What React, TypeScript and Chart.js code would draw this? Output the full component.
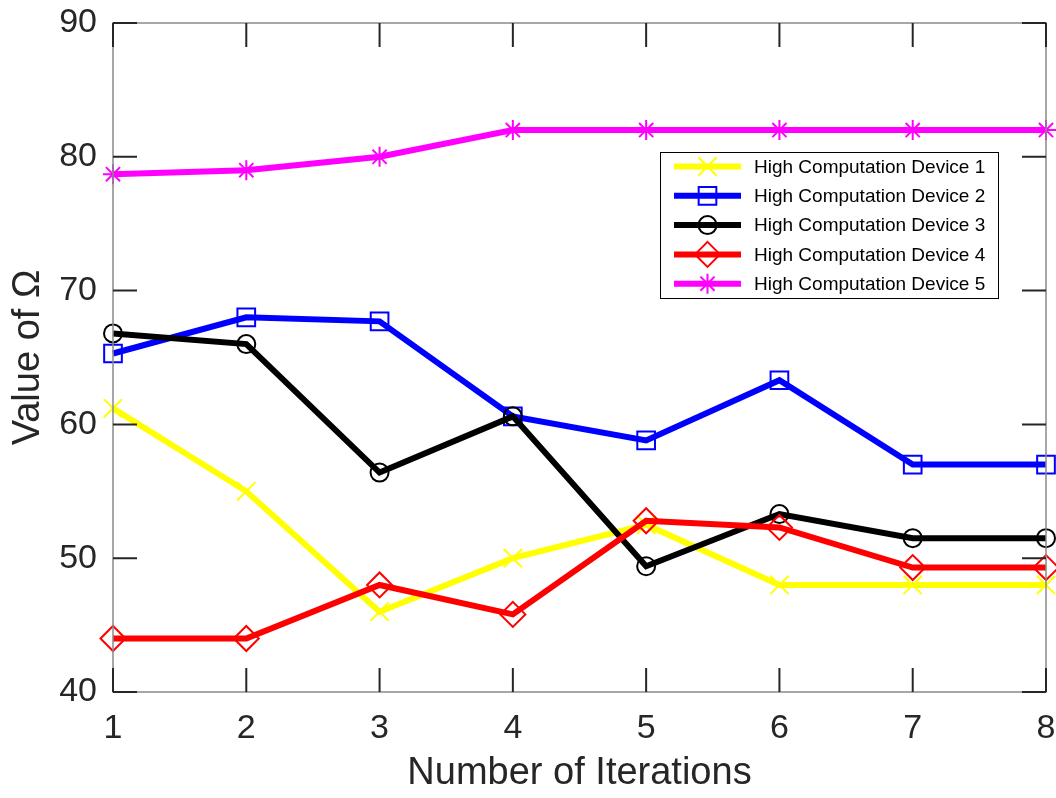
import React, { useEffect, useRef } from 'react';
import { Chart, registerables } from 'chart.js';

Chart.register(...registerables);

const iterations = [1, 2, 3, 4, 5, 6, 7, 8];
const device1 = [61.2, 55.0, 46.0, 50.0, 52.5, 48.0, 48.0, 48.0];
const device2 = [65.3, 68.0, 67.7, 60.6, 58.8, 63.3, 57.0, 57.0];
const device3 = [66.8, 66.0, 56.4, 60.6, 49.4, 53.3, 51.5, 51.5];
const device4 = [44.0, 44.0, 48.0, 45.8, 52.8, 52.3, 49.3, 49.3];
const device5 = [78.7, 79.0, 80.0, 82.0, 82.0, 82.0, 82.0, 82.0];

const seriesNames = [
  'High Computation Device 1',
  'High Computation Device 2',
  'High Computation Device 3',
  'High Computation Device 4',
  'High Computation Device 5',
];
const seriesValues = [device1, device2, device3, device4, device5];
const seriesColors = ['#FFFF00', '#0000FF', '#000000', '#FF0000', '#FF00FF'];
const pointStyles = ['crossRot', 'rect', 'circle', 'rectRot', 'star'];
const pointRadii = [13, 12.5, 9, 12.5, 10];

const xTitle = 'Number of Iterations';
const yTitle = 'Value of Ω';
const yMin = 40;
const yMax = 90;
const yStep = 10;

const FONT = "'Liberation Sans', Arial, Helvetica, sans-serif";
const TEXT_COLOR = '#262626';

function drawMarker(ctx: CanvasRenderingContext2D, style: string, x: number, y: number, r: number, color: string) {
  ctx.save();
  ctx.strokeStyle = color;
  ctx.lineWidth = 2;
  ctx.beginPath();
  const q = Math.SQRT1_2 * r;
  switch (style) {
    case 'circle':
      ctx.arc(x, y, r, 0, Math.PI * 2);
      break;
    case 'rect':
      ctx.rect(x - q, y - q, 2 * q, 2 * q);
      break;
    case 'rectRot':
      ctx.moveTo(x, y - r);
      ctx.lineTo(x + r, y);
      ctx.lineTo(x, y + r);
      ctx.lineTo(x - r, y);
      ctx.closePath();
      break;
    case 'crossRot':
      ctx.moveTo(x - q, y - q);
      ctx.lineTo(x + q, y + q);
      ctx.moveTo(x - q, y + q);
      ctx.lineTo(x + q, y - q);
      break;
    case 'star':
      ctx.moveTo(x - q, y - q);
      ctx.lineTo(x + q, y + q);
      ctx.moveTo(x - q, y + q);
      ctx.lineTo(x + q, y - q);
      ctx.moveTo(x, y - r);
      ctx.lineTo(x, y + r);
      ctx.moveTo(x - r, y);
      ctx.lineTo(x + r, y);
      break;
  }
  ctx.stroke();
  ctx.restore();
}

const framePlugin = {
  id: 'frameTicks',
  afterDatasetsDraw(chart: any) {
    const { ctx, chartArea } = chart;
    const { left, right, top, bottom } = chartArea;
    const xs = chart.scales.x;
    const ys = chart.scales.y;
    ctx.save();
    ctx.strokeStyle = '#8a8a8a';
    ctx.lineWidth = 1.5;
    ctx.strokeRect(left, top, right - left, bottom - top);
    ctx.strokeStyle = TEXT_COLOR;
    ctx.lineWidth = 2;
    const len = 24;
    ctx.beginPath();
    iterations.forEach((v) => {
      const px = xs.getPixelForValue(v);
      ctx.moveTo(px, bottom);
      ctx.lineTo(px, bottom - len);
      ctx.moveTo(px, top);
      ctx.lineTo(px, top + len);
    });
    for (let v = yMin; v <= yMax; v += yStep) {
      const py = ys.getPixelForValue(v);
      ctx.moveTo(left, py);
      ctx.lineTo(left + len, py);
      ctx.moveTo(right, py);
      ctx.lineTo(right - len, py);
    }
    ctx.stroke();
    ctx.restore();
  },
};

const legendPlugin = {
  id: 'insideLegend',
  afterDraw(chart: any) {
    const { ctx } = chart;
    const bx = 660, by = 152, bw = 338, bh = 146;
    ctx.save();
    ctx.fillStyle = '#ffffff';
    ctx.fillRect(bx, by, bw, bh);
    ctx.strokeStyle = '#000000';
    ctx.lineWidth = 1;
    ctx.strokeRect(bx + 0.5, by + 0.5, bw, bh);
    const rowH = 29.3;
    seriesNames.forEach((name, i) => {
      const y = by + 14.5 + i * rowH;
      ctx.strokeStyle = seriesColors[i];
      ctx.lineWidth = 6;
      ctx.beginPath();
      ctx.moveTo(674, y);
      ctx.lineTo(741, y);
      ctx.stroke();
      drawMarker(ctx, pointStyles[i], 707.5, y, pointRadii[i], seriesColors[i]);
      ctx.fillStyle = '#000000';
      ctx.font = `19px ${FONT}`;
      ctx.textBaseline = 'middle';
      ctx.textAlign = 'left';
      ctx.fillText(name, 754, y + 1);
    });
    ctx.restore();
  },
};

export default function App() {
  const canvasRef = useRef<HTMLCanvasElement | null>(null);

  useEffect(() => {
    document.body.style.margin = '0';
    const canvas = canvasRef.current;
    if (!canvas) return;
    const datasets = seriesNames.map((name, i) => ({
      label: name,
      data: iterations.map((x, j) => ({ x, y: seriesValues[i][j] })),
      borderColor: seriesColors[i],
      backgroundColor: 'rgba(0,0,0,0)',
      borderWidth: 6,
      pointStyle: pointStyles[i],
      pointRadius: pointRadii[i],
      pointBorderWidth: 2,
      pointBorderColor: seriesColors[i],
      pointBackgroundColor: 'rgba(0,0,0,0)',
      tension: 0,
      clip: false,
      order: seriesNames.length - i,
    }));
    const chart = new Chart(canvas, {
      type: 'line',
      data: { datasets },
      plugins: [framePlugin, legendPlugin],
      options: {
        responsive: false,
        animation: false,
        events: [],
        layout: { autoPadding: false, padding: { top: 23, right: 10, left: 0, bottom: 0 } },
        plugins: { legend: { display: false }, tooltip: { enabled: false } },
        scales: {
          x: {
            type: 'linear',
            min: 1,
            max: 8,
            ticks: { stepSize: 1, padding: 16, color: TEXT_COLOR, font: { family: FONT, size: 34 } },
            grid: { display: false, drawTicks: false },
            border: { display: false },
            title: {
              display: true,
              text: xTitle,
              color: TEXT_COLOR,
              font: { family: FONT, size: 38 },
              padding: { top: 0, bottom: 2 },
            },
            afterFit: (s: any) => {
              s.height = 106;
              s.paddingLeft = 0;
              s.paddingRight = 0;
            },
          },
          y: {
            type: 'linear',
            min: yMin,
            max: yMax,
            ticks: { stepSize: yStep, padding: 16, color: TEXT_COLOR, font: { family: FONT, size: 34 } },
            grid: { display: false, drawTicks: false },
            border: { display: false },
            title: {
              display: true,
              text: yTitle,
              color: TEXT_COLOR,
              font: { family: FONT, size: 38 },
              padding: { top: 6, bottom: 0 },
            },
            afterFit: (s: any) => {
              s.width = 113;
              s.paddingTop = 0;
              s.paddingBottom = 0;
            },
          },
        },
      },
    });
    return () => chart.destroy();
  }, []);

  return <canvas ref={canvasRef} width={1056} height={798} style={{ display: 'block' }} />;
}
